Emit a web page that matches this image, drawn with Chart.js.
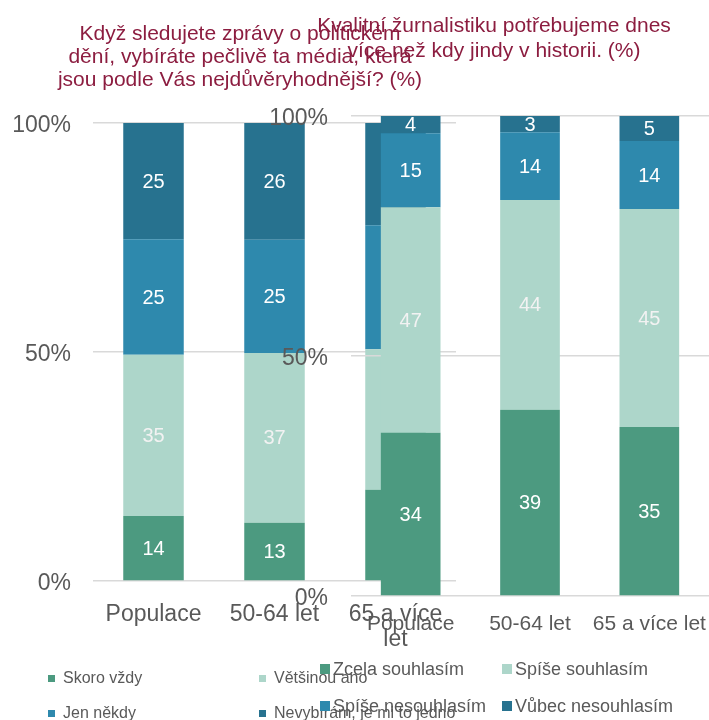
<!DOCTYPE html>
<html lang="cs">
<head>
<meta charset="UTF-8">
<title>Média a žurnalistika</title>
<script src="https://cdn.jsdelivr.net/npm/chart.js@4/dist/chart.umd.min.js"></script>
<style>
    body { margin: 0; background: #fff; font-family: "Liberation Sans", Arial, sans-serif; }
    #wrap { position: relative; width: 709px; height: 720px; overflow: hidden; }
    canvas { position: absolute; top: 0; }
    #leftChart { left: 0; z-index: 1; }
    #rightChart { left: 260px; z-index: 2; }
    .title { position: absolute; color: #8C1D40; font-size: 21px; text-align: center; white-space: nowrap; z-index: 3; }
    #leftTitle { left: 0; width: 480px; top: 21px; line-height: 23px; }
    #rightTitle { left: 294px; width: 400px; top: 12px; line-height: 25px; }
    .legend-item { position: absolute; color: #595959; white-space: nowrap; display: flex; align-items: center; z-index: 3; }
    .legend-item span.box { display: inline-block; }
</style>
</head>
<body>
<div id="wrap">
    <div class="title" id="leftTitle">Když sledujete zprávy o politickém<br>dění, vybíráte pečlivě ta média, která<br>jsou podle Vás nejdůvěryhodnější? (%)</div>
    <div class="title" id="rightTitle">Kvalitní žurnalistiku potřebujeme dnes<br>více než kdy jindy v historii. (%)</div>
    <canvas id="leftChart" width="470" height="720"></canvas>
    <canvas id="rightChart" width="449" height="720"></canvas>
</div>
<script>
// categories
const leftCategories = ['Populace', '50-64 let', ['65 a více', 'let']];
const rightCategories = ['Populace', '50-64 let', '65 a více let'];

// left chart series (%)
const skoroVzdy = [14.2, 12.7, 19.9];
const vetsinouAno = [35.2, 37.1, 30.7];
const jenNekdy = [25.2, 24.7, 27.1];
const nevybiram = [25.4, 25.5, 22.3];

// right chart series (%)
const zcelaSouhlasim = [34, 38.8, 35.2];
const spiseSouhlasim = [47, 43.7, 45.4];
const spiseNesouhlasim = [15.4, 14.1, 14.2];
const vubecNesouhlasim = [3.6, 3.4, 5.2];

const yTicks = [0, 50, 100];

const GREEN = '#4C9A80';
const LIGHT = '#ADD6CA';
const BLUE = '#2E89AD';
const DARK = '#27728F';
const FONT = "'Liberation Sans', Arial, sans-serif";

// value labels in the middle of each segment
const segmentLabels = {
    id: 'segmentLabels',
    afterDatasetsDraw(chart) {
        const ctx = chart.ctx;
        ctx.save();
        ctx.font = '20px ' + FONT;
        ctx.textAlign = 'center';
        ctx.textBaseline = 'middle';
        chart.data.datasets.forEach((ds, i) => {
            chart.getDatasetMeta(i).data.forEach((bar, j) => {
                ctx.fillStyle = ds.labelColor;
                ctx.fillText(Math.round(ds.data[j]), bar.x, (bar.y + bar.base) / 2 + 1);
            });
        });
        ctx.restore();
    }
};

function makeChart(id, labels, series, opt) {
    return new Chart(document.getElementById(id), {
        type: 'bar',
        data: {
            labels: labels,
            datasets: series.map(s => ({
                label: s.label,
                data: s.data,
                backgroundColor: s.color,
                labelColor: s.color === LIGHT ? '#F2F2F2' : '#FFFFFF',
                borderWidth: 0,
                barPercentage: 0.5,
                categoryPercentage: 1.0
            }))
        },
        options: {
            responsive: false,
            animation: false,
            layout: { padding: { top: opt.top, right: opt.right, left: 0, bottom: 0 } },
            plugins: { legend: { display: false }, title: { display: false }, tooltip: { enabled: false } },
            scales: {
                x: {
                    stacked: true,
                    grid: { display: false },
                    border: { display: false },
                    ticks: {
                        color: '#595959',
                        font: { family: FONT, size: opt.xFont, lineHeight: 1.1 },
                        padding: opt.xPad,
                        maxRotation: 0,
                        autoSkip: false
                    },
                    afterFit: s => {
                        s.height = opt.xHeight;
                        s.paddingLeft = 0;
                        s.paddingRight = 0;
                    }
                },
                y: {
                    stacked: true,
                    min: 0,
                    max: 100,
                    afterBuildTicks: s => { s.ticks = yTicks.map(v => ({ value: v })); },
                    grid: { color: '#D9D9D9', lineWidth: 1.5, drawTicks: false },
                    border: { display: false },
                    ticks: {
                        color: '#595959',
                        font: { family: FONT, size: 23 },
                        padding: opt.yPad,
                        labelOffset: 3,
                        callback: v => v + '%'
                    },
                    afterFit: s => {
                        s.width = opt.yWidth;
                        s.paddingTop = 0;
                        s.paddingBottom = 0;
                    }
                }
            }
        },
        plugins: [segmentLabels]
    });
}

function makeLegend(chart, o) {
    const wrap = document.getElementById('wrap');
    chart.data.datasets.forEach((ds, i) => {
        const item = document.createElement('div');
        item.className = 'legend-item';
        item.style.left = (o.x + (i % 2) * o.colW) + 'px';
        item.style.top = (o.y + Math.floor(i / 2) * o.rowH - o.lineH / 2) + 'px';
        item.style.height = o.lineH + 'px';
        item.style.fontSize = o.font + 'px';
        const box = document.createElement('span');
        box.className = 'box';
        box.style.width = o.box + 'px';
        box.style.height = o.box + 'px';
        box.style.background = ds.backgroundColor;
        box.style.marginRight = o.gap + 'px';
        const txt = document.createElement('span');
        txt.textContent = ds.label;
        item.appendChild(box);
        item.appendChild(txt);
        wrap.appendChild(item);
    });
}

const leftChart = makeChart('leftChart', leftCategories, [
    { label: 'Skoro vždy', data: skoroVzdy, color: GREEN },
    { label: 'Většinou ano', data: vetsinouAno, color: LIGHT },
    { label: 'Jen někdy', data: jenNekdy, color: BLUE },
    { label: 'Nevybírám, je mi to jedno', data: nevybiram, color: DARK }
], { top: 123, right: 14, xHeight: 139, yWidth: 93, yPad: 22, xFont: 23, xPad: 13 });

const rightChart = makeChart('rightChart', rightCategories, [
    { label: 'Zcela souhlasím', data: zcelaSouhlasim, color: GREEN },
    { label: 'Spíše souhlasím', data: spiseSouhlasim, color: LIGHT },
    { label: 'Spíše nesouhlasím', data: spiseNesouhlasim, color: BLUE },
    { label: 'Vůbec nesouhlasím', data: vubecNesouhlasim, color: DARK }
], { top: 116, right: 0, xHeight: 124, yWidth: 91, yPad: 23, xFont: 21, xPad: 9 });

makeLegend(leftChart, { x: 48, y: 678, colW: 211, rowH: 35, lineH: 20, font: 16, box: 7, gap: 8 });
makeLegend(rightChart, { x: 320, y: 669, colW: 182, rowH: 37, lineH: 22, font: 18, box: 10, gap: 3 });
</script>
</body>
</html>
